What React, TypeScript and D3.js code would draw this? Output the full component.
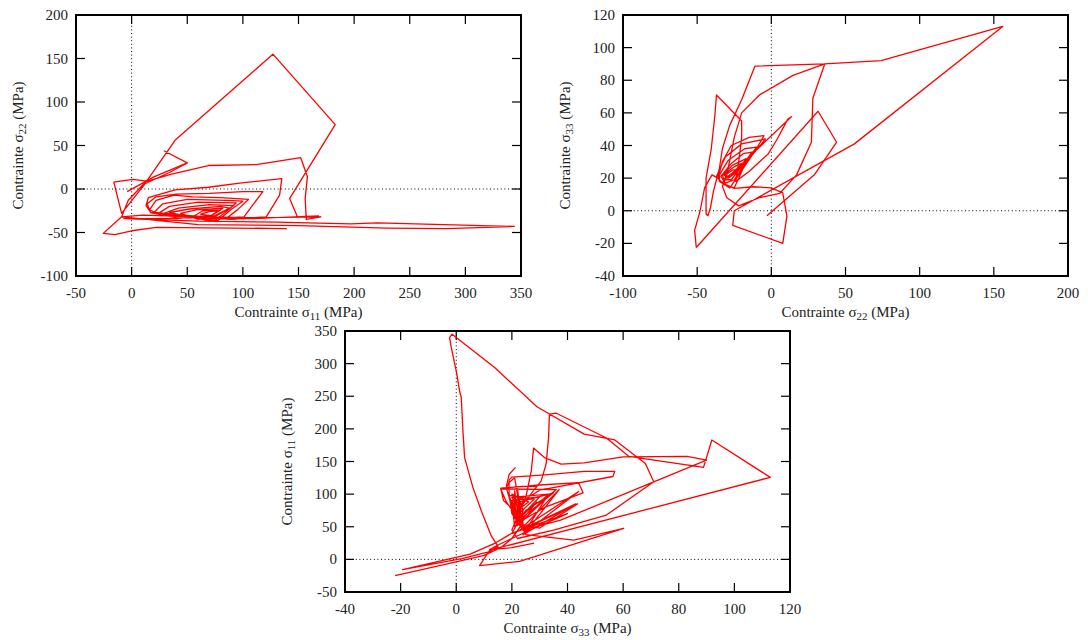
import React from 'react';
import * as d3 from 'd3';

type Pt = [number, number];

// ---------- Panel 1 : sigma11 (x) vs sigma22 (y) ----------
const p1XTicks = [-50, 0, 50, 100, 150, 200, 250, 300, 350];
const p1YTicks = [-100, -50, 0, 50, 100, 150, 200];
const s11s22Start: Pt[] = [[-4, -3], [20, 14], [50, 30]];
const s11s22: Pt[] = [
  [29, 44], [50, 30], [34, 19], [12, 6], [-9, -28],
  [-16, 8], [1, 11], [14, 9], [36, 17], [69, 27], [112, 28], [152, 36], [158, 14], [156, -11], [157, -35], [170, -32],
  [120, -33], [60, -32], [10, -30], [-9, -32], [-3, -13], [14, 10], [39, 56], [127, 155], [183, 74], [142, -11], [149, -32], [168, -31],
  [110, -34], [40, -33], [17, -27], [13, -19], [15, -10], [39, -1], [69, 2], [99, 7], [135, 12], [133, -7], [121, -32], [90, -35], [40, -31], [17, -27],
  [14, -17], [22, -9], [40, -6], [70, -5], [100, -3], [118, -3], [108, -20], [101, -32], [70, -34], [25, -29],
  [16, -24], [22, -13], [38, -7], [55, -9], [80, -10], [105, -12], [95, -24], [85, -34], [55, -31], [20, -27],
  [28, -17], [50, -12], [85, -13], [100, -14], [90, -23], [78, -36], [52, -32], [24, -28],
  [34, -20], [60, -15], [94, -16], [86, -25], [74, -37], [48, -31], [29, -28],
  [42, -22], [70, -18], [92, -19], [80, -28], [68, -36], [45, -30], [34, -27],
  [52, -23], [80, -20], [88, -22], [74, -31], [60, -35], [44, -28],
  [58, -24], [82, -22], [70, -32], [56, -31],
  [64, -25], [80, -24], [71, -31], [62, -29],
  [70, -26], [78, -25], [72, -30],
  [40, -34], [-7, -34], [60, -37], [130, -38], [197, -40], [221, -39], [344, -43], [283, -45.5], [230, -45], [150, -42], [60, -41], [-9, -32],
  [-25.5, -51], [-15, -52.5], [0, -48], [22.5, -44], [139.5, -45.5],
];

// ---------- Panel 2 : sigma22 (x) vs sigma33 (y) ----------
const p2XTicks = [-100, -50, 0, 50, 100, 150, 200];
const p2YTicks = [-40, -20, 0, 20, 40, 60, 80, 100, 120];
const s22s33Start: Pt[] = [[-3, -3], [29, 22], [44, 42], [31.5, 61], [-50.6, -22.5]];
const s22s33: Pt[] = [
  [-50.6, -22.5], [-51.7, -12], [-48, 0], [-45, 14], [-40, 22], [-36, 20],
  [-33, 30], [-27, 40], [-15, 45], [-5, 46], [-10, 38], [-18, 28], [-25, 14], [-32, 16],
  [-37, 21], [-31, 33], [-20, 41], [-4, 44], [-13, 34], [-22, 22], [-28, 14], [-35, 18],
  [-35, 22], [-29, 31], [-18, 38], [-10, 39], [-17, 30], [-25, 19], [-31, 17],
  [-34, 21], [-27, 29], [-19, 35], [-13, 36], [-20, 27], [-27, 19], [-32, 19],
  [-33, 22], [-26, 28], [-17, 32], [-23, 24], [-29, 20],
  [-32, 22], [-25, 27], [-20, 29], [-25, 23], [-30, 21],
  [-31, 22], [-26, 25], [-23, 25], [-28, 22],
  [-30, 20], [13.5, 57.6], [11, 56], [4, 44], [-2, 35], [-15, 24], [-24, 18],
  [-22, 30], [-20, 45], [-20, 55], [-37, 71], [-38, 59], [-40.5, 38], [-44, 20], [-44, -2], [-42.7, -3], [-41, 2], [-39, 12], [-37, 19],
  [-35, 26], [-33, 38], [-28, 52.5], [-20, 68], [-11, 88.7], [36, 90], [74, 92], [156, 113], [56, 41], [-25, 0], [-26, -9],
  [7.7, -20], [10.5, -3.3], [7.7, 11], [0, 14], [-12, 14.7], [-25, 13.7], [-33, 17],
  [-30, 22], [-25, 45], [-20, 60], [-8, 71], [14.6, 83], [36, 90], [28, 69], [27, 42], [17, 22], [5.6, 10.6], [-8, 8], [-22, 3], [-30, 8], [-33, 15], [-30, 22],
];

// ---------- Panel 3 : sigma33 (x) vs sigma11 (y) ----------
const p3XTicks = [-40, -20, 0, 20, 40, 60, 80, 100, 120];
const p3YTicks = [-50, 0, 50, 100, 150, 200, 250, 300, 350];
const s33s11Start: Pt[] = [[21.3, 141], [19, 130], [18, 112]];
const s33s11: Pt[] = [
  [-22, -25], [0, -4], [10, 6], [16, 18], [20, 32], [23, 50], [24, 75], [22, 100], [21, 125], [19, 118],
  [18, 110], [20, 80], [22, 55], [20, 40], [14, 25], [5, 8], [-19.3, -15.8], [2, 1], [12, 12], [15, 20],
  [12.6, 36], [9, 74.6], [6, 110], [3, 156], [2.4, 197], [1.8, 248], [1.2, 258], [0, 289], [-1.8, 325], [-2.4, 340], [-1.5, 345],
  [13.8, 294], [29, 234], [46, 192], [57, 183], [68, 147], [71, 119], [54, 68], [35, 45], [22, 32],
  [20, 45], [24, 85], [30.5, 120], [32.3, 146], [33.2, 187], [33.5, 222.7], [36, 224], [54, 186], [62, 158], [88.9, 141], [91.9, 182.9], [112.9, 125.7],
  [12, 14], [8.4, -9.7], [22.8, -3], [60.2, 47.5], [42.3, 29.6], [25, 38],
  [22, 64], [25, 95], [27, 136], [27.8, 170.6], [31.7, 156], [37.7, 146], [46, 148], [60, 157], [83, 158], [90, 152], [37.5, 60], [24, 45],
  [20, 70], [19, 100], [19, 121.5], [20, 126], [33, 130], [46, 135], [57, 135], [56.3, 127], [30, 106], [24, 90], [22, 70],
  [17, 90], [16, 109], [30, 114], [44, 117.5], [45.6, 102], [32, 80], [23, 58],
  [18, 88], [16, 108], [36, 107], [34, 100], [25, 75], [21, 50],
  [20, 85], [35, 102], [24, 65], [20, 95], [33, 100], [23, 55], [20, 90], [30, 96], [22, 60], [19, 98], [28, 92], [22, 68],
  [20, 100], [26, 88], [21, 72], [21, 105], [23, 50], [22, 100], [24, 55], [21, 95], [23, 60], [22, 108], [24, 48],
  [44, 104], [25, 42], [37, 107], [23, 45], [43, 85], [24, 38], [32, 92], [22, 52], [29, 88], [21, 56],
  [30, 48], [43.6, 85], [26, 50], [20, 40], [40, 70], [24, 40], [15, 22], [12, 15], [20, 18], [28, 25],
];

const FONT = '"Liberation Serif", "DejaVu Serif", serif';

interface PanelProps {
  left: number; top: number; width: number; height: number;
  xDomain: [number, number]; yDomain: [number, number];
  xTicks: number[]; yTicks: number[];
  data: Pt[][]; xSub: string; ySub: string;
}

function Panel({ left, top, width, height, xDomain, yDomain, xTicks, yTicks, data, xSub, ySub }: PanelProps) {
  const x = d3.scaleLinear().domain(xDomain).range([left, left + width]);
  const y = d3.scaleLinear().domain(yDomain).range([top + height, top]);
  const line = d3.line<Pt>().x(d => x(d[0])).y(d => y(d[1]));
  const tl = 9;
  const bottom = top + height;
  const right = left + width;
  const cx = left + width / 2;
  const cy = top + height / 2;
  const ytx = left - 53;
  const fs = 15;
  return (
    <g>
      <clipPath id={`clip-${left}-${top}`}>
        <rect x={left} y={top} width={width} height={height} />
      </clipPath>
      <line x1={x(0)} x2={x(0)} y1={top} y2={bottom} stroke="#000" strokeWidth={1} strokeDasharray="1,2.6" />
      <line x1={left} x2={right} y1={y(0)} y2={y(0)} stroke="#000" strokeWidth={1} strokeDasharray="1,2.6" />
      {xTicks.map(t => (
        <g key={`xt${t}`}>
          <line x1={x(t)} x2={x(t)} y1={bottom} y2={bottom - tl} stroke="#000" strokeWidth={1.2} />
          <line x1={x(t)} x2={x(t)} y1={top} y2={top + tl} stroke="#000" strokeWidth={1.2} />
          <text x={x(t)} y={bottom + 22} textAnchor="middle" fontFamily={FONT} fontSize={fs} fill="#222">{t}</text>
        </g>
      ))}
      {yTicks.map(t => (
        <g key={`yt${t}`}>
          <line x1={left} x2={left + tl} y1={y(t)} y2={y(t)} stroke="#000" strokeWidth={1.2} />
          <line x1={right} x2={right - tl} y1={y(t)} y2={y(t)} stroke="#000" strokeWidth={1.2} />
          <text x={left - 8} y={y(t) + 5} textAnchor="end" fontFamily={FONT} fontSize={fs} fill="#222">{t}</text>
        </g>
      ))}
      {data.map((seg, i) => (
        <path key={i} d={line(seg) || ''} fill="none" stroke="#ff0000" strokeWidth={1.3} strokeLinejoin="round" clipPath={`url(#clip-${left}-${top})`} />
      ))}
      <rect x={left} y={top} width={width} height={height} fill="none" stroke="#000" strokeWidth={2} />
      <text x={cx} y={bottom + 41} textAnchor="middle" fontFamily={FONT} fontSize={fs} fill="#222">
        Contrainte σ<tspan fontSize={11} dy={3}>{xSub}</tspan><tspan dy={-3}> (MPa)</tspan>
      </text>
      <text transform={`translate(${ytx},${cy}) rotate(-90)`} textAnchor="middle" fontFamily={FONT} fontSize={fs} fill="#222">
        Contrainte σ<tspan fontSize={11} dy={3}>{ySub}</tspan><tspan dy={-3}> (MPa)</tspan>
      </text>
    </g>
  );
}

export default function App() {
  return (
    <svg width={1088} height={640} style={{ position: 'absolute', left: 0, top: 0, background: '#fff' }}>
      <rect x={0} y={0} width={1088} height={640} fill="#fff" />
      <Panel left={76} top={15} width={445} height={261} xDomain={[-50, 350]} yDomain={[-100, 200]}
        xTicks={p1XTicks} yTicks={p1YTicks} data={[s11s22Start, s11s22]} xSub="11" ySub="22" />
      <Panel left={623} top={15} width={445} height={261} xDomain={[-100, 200]} yDomain={[-40, 120]}
        xTicks={p2XTicks} yTicks={p2YTicks} data={[s22s33Start, s22s33]} xSub="22" ySub="33" />
      <Panel left={345} top={331} width={445} height={261} xDomain={[-40, 120]} yDomain={[-50, 350]}
        xTicks={p3XTicks} yTicks={p3YTicks} data={[s33s11Start, s33s11]} xSub="33" ySub="11" />
    </svg>
  );
}
